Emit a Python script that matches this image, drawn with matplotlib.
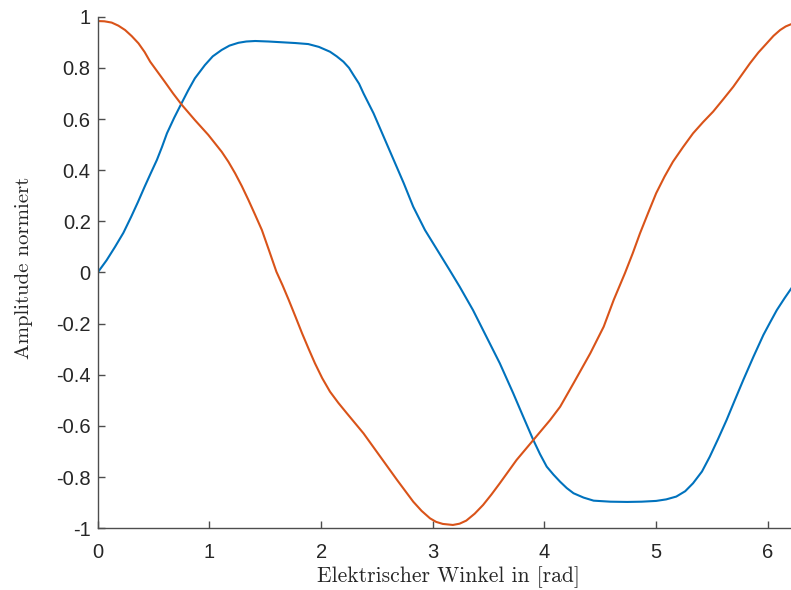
import matplotlib
matplotlib.use('Agg')
import matplotlib.pyplot as plt

'''
Werte aus dem Bild abgelesen
'''
# blaue Kurve
blau_x = [0.0, 0.08, 0.155, 0.23, 0.30, 0.36, 0.42, 0.475, 0.53, 0.575, 0.62, 0.685, 0.75, 0.81, 0.87,
          0.96, 1.03, 1.11, 1.18, 1.26, 1.33, 1.41, 1.53, 1.65, 1.77, 1.885, 1.98, 2.08, 2.14, 2.20,
          2.25, 2.29, 2.34, 2.38, 2.47, 2.56, 2.65, 2.74, 2.825, 2.93, 3.05, 3.15, 3.24, 3.36,
          3.48, 3.60, 3.72, 3.81, 3.90, 3.96, 4.02, 4.08, 4.14, 4.20, 4.26, 4.35, 4.44, 4.59, 4.74,
          4.87, 5.00, 5.09, 5.18, 5.26, 5.33, 5.41, 5.48, 5.555, 5.63, 5.705, 5.78, 5.87, 5.96,
          6.02, 6.08, 6.15, 6.21]
blau_y = [0.0, 0.048, 0.10, 0.155, 0.218, 0.275, 0.335, 0.388, 0.44, 0.49, 0.544, 0.605, 0.661, 0.712, 0.759,
          0.811, 0.845, 0.87, 0.887, 0.898, 0.903, 0.905, 0.903, 0.90, 0.897, 0.893, 0.882, 0.863, 0.845, 0.824,
          0.80, 0.772, 0.738, 0.70, 0.622, 0.531, 0.44, 0.349, 0.257, 0.166, 0.081, 0.01, -0.055, -0.147,
          -0.251, -0.355, -0.472, -0.564, -0.655, -0.71, -0.759, -0.79, -0.818, -0.843, -0.863, -0.88, -0.892, -0.896, -0.897,
          -0.896, -0.893, -0.887, -0.876, -0.855, -0.824, -0.778, -0.72, -0.65, -0.577, -0.498, -0.42, -0.33, -0.244,
          -0.195, -0.147, -0.10, -0.062]

# orange Kurve
orange_x = [0.0, 0.06, 0.125, 0.185, 0.245, 0.305, 0.365, 0.42, 0.47, 0.535, 0.60, 0.675, 0.75, 0.87, 0.99,
            1.11, 1.17, 1.23, 1.29, 1.35, 1.41, 1.47, 1.535, 1.60, 1.655, 1.71, 1.77, 1.83, 1.89, 1.945,
            2.01, 2.08, 2.155, 2.23, 2.38, 2.53, 2.68, 2.825, 2.90, 2.975, 3.03, 3.09, 3.18, 3.24, 3.30,
            3.375, 3.45, 3.525, 3.60, 3.75, 3.90, 4.05, 4.14, 4.26, 4.41, 4.53, 4.62, 4.67, 4.72, 4.79,
            4.855, 4.93, 5.00, 5.075, 5.15, 5.24, 5.33, 5.42, 5.51, 5.60, 5.69, 5.765, 5.84, 5.915, 5.99,
            6.05, 6.11, 6.16, 6.21]
orange_y = [0.983, 0.982, 0.977, 0.965, 0.948, 0.924, 0.896, 0.862, 0.824, 0.785, 0.746, 0.70, 0.657, 0.596, 0.538,
            0.472, 0.433, 0.388, 0.338, 0.283, 0.225, 0.166, 0.085, 0.003, -0.05, -0.107, -0.172, -0.238, -0.30, -0.355,
            -0.413, -0.466, -0.51, -0.55, -0.629, -0.72, -0.811, -0.896, -0.932, -0.961, -0.975, -0.983, -0.987, -0.982, -0.970,
            -0.943, -0.909, -0.868, -0.824, -0.733, -0.655, -0.577, -0.525, -0.433, -0.316, -0.212, -0.107, -0.055, -0.003, 0.075,
            0.153, 0.235, 0.31, 0.375, 0.433, 0.49, 0.544, 0.588, 0.629, 0.677, 0.726, 0.772, 0.818, 0.86, 0.896,
            0.925, 0.948, 0.962, 0.971]

xticks = [0, 1, 2, 3, 4, 5, 6]
yticks = [-1, -0.8, -0.6, -0.4, -0.2, 0, 0.2, 0.4, 0.6, 0.8, 1]
ytick_labels = ['-1', '-0.8', '-0.6', '-0.4', '-0.2', '0', '0.2', '0.4', '0.6', '0.8', '1']

fig = plt.figure(figsize=(7.91, 5.90), dpi=100)
ax = fig.add_axes([0.1235, 0.1046, 0.8765, 0.8671])

ax.plot(blau_x, blau_y, color='#0072BD', lw=1.5)
ax.plot(orange_x, orange_y, color='#D95319', lw=1.5)

ax.set_xlim(0, 6.207)
ax.set_ylim(-1, 1)
ax.set_xticks(xticks)
ax.set_xticklabels([str(t) for t in xticks])
ax.set_yticks(yticks)
ax.set_yticklabels(ytick_labels)

for s in ['top', 'right']:
    ax.spines[s].set_visible(False)
for s in ['left', 'bottom']:
    ax.spines[s].set_color('#4d4d4d')
    ax.spines[s].set_linewidth(1.0)

ax.tick_params(direction='in', length=5, width=1.0, color='#4d4d4d',
               labelcolor='#262626', labelsize=14.5, labelfontfamily='Liberation Sans')
ax.tick_params(axis='x', pad=10.5)
ax.tick_params(axis='y', pad=5)

fig.text(448 / 791, 1 - 577 / 590, 'Elektrischer Winkel in [rad]', family='cmr10',
         fontsize=15.5, color='#262626', ha='center', va='center')
fig.text(24 / 791, 1 - 268 / 590, 'Amplitude normiert', family='cmr10',
         fontsize=15, color='#262626', ha='center', va='center', rotation=90)

fig.savefig('out.png', dpi=100)
